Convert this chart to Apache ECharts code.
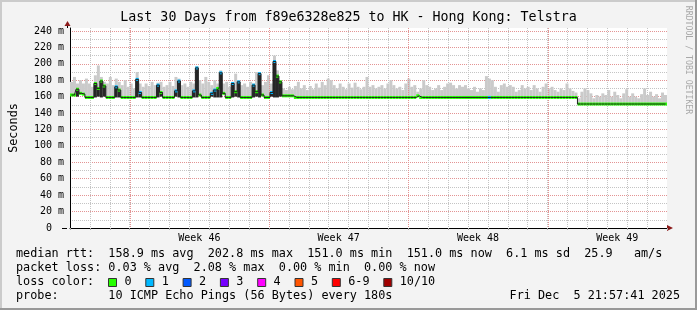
<!DOCTYPE html>
<html><head><meta charset="utf-8">
<script src="https://cdn.jsdelivr.net/npm/echarts@6/dist/echarts.min.js"></script>
<style>html,body{margin:0;padding:0;background:#f3f3f3}#c{width:697px;height:310px}</style>
</head><body><div id="c"></div>
<script>
// ---------- data ----------
const titleText = 'Last 30 Days from f89e6328e825 to HK - Hong Kong: Telstra';
const yTickValues = [0, 20, 40, 60, 80, 100, 120, 140, 160, 180, 200, 220, 240];
const yTickLabels = ['0  ', '20 m', '40 m', '60 m', '80 m', '100 m', '120 m', '140 m', '160 m', '180 m', '200 m', '220 m', '240 m'];
const weekLabels = ['Week 46', 'Week 47', 'Week 48', 'Week 49'];
const weekCenters = [6.5, 13.5, 20.5, 27.5];   // days from graph start
const weekStarts = [3, 10, 17, 24];            // days from graph start
const bucketDays = 0.15;                       // one sample bucket = 3.6 h

// median rtt per bucket (ms)
const median = [
 162,162,169,164,163,159,159,159,176,170,179,173,159,159,159,172,168,159,159,159,
 159,159,181,165,159,159,159,159,159,174,165,159,159,159,159,167,179,159,159,159,
 159,167,195,162,159,159,159,164,168,170,189,164,159,159,176,166,178,159,159,159,
 159,174,166,188,162,159,159,165,202.8,185,178,161,161,161,161,159,159,159,159,159,
 159,159,159,159,159,159,159,159,159,159,159,159,159,159,159,159,159,159,159,159,
 159,159,159,159,159,159,159,159,159,159,159,159,159,159,159,159,161,159,159,159,
 159,159,159,159,159,159,159,159,159,159,159,159,159,159,159,159,159,159,159,159,
 159,159,159,159,159,159,159,159,159,159,159,159,159,159,159,159,159,159,159,159,
 159,159,159,159,159,159,159,159,159,159,151,151,151,151,151,151,151,151,151,151,
 151,151,151,151,151,151,151,151,151,151,151,151,151,151,151,151,151,151,151,151
];
// top of the smoke (max ping) per bucket (ms)
const smokeTop = [
 178,184,176,180,176,182,176,172,186,198,184,178,176,184,174,182,178,174,180,172,
 176,170,190,176,172,176,173,178,174,177,178,172,174,178,173,184,182,174,176,172,
 178,176,197,180,176,184,178,174,180,176,192,176,178,172,178,188,180,174,176,172,
 178,176,190,189,174,178,186,176,210,192,180,170,168,172,169,173,178,170,174,168,
 173,169,176,171,178,174,182,180,174,170,176,172,169,176,171,177,172,169,172,184,
 172,174,170,172,174,170,176,180,174,170,172,168,176,182,172,174,166,170,180,174,
 172,168,170,174,168,172,176,177,174,170,174,172,174,170,168,172,166,170,168,185,
 182,180,172,166,174,176,172,174,172,166,168,174,170,172,168,174,170,166,172,176,
 170,172,168,166,170,168,176,170,167,165,158,166,170,168,164,158,162,160,164,162,
 168,160,166,162,158,164,169,160,164,160,158,163,170,162,166,160,163,158,165,162
];
// lost pings (of 10) per bucket
const loss = [
 0,0,0,0,0,0,0,0,0,0,0,0,0,0,0,1,0,0,0,0,
 0,0,1,1,0,0,0,0,0,1,0,0,0,0,0,1,1,0,0,0,
 0,1,1,0,0,0,0,1,1,0,1,0,0,0,1,0,1,0,0,0,
 0,1,0,1,0,0,0,1,1,0,0,0,0,0,0,0,0,0,0,0,
 0,0,0,0,0,0,0,0,0,0,0,0,0,0,0,0,0,0,0,0,
 0,0,0,0,0,0,0,0,0,0,0,0,0,0,0,0,0,0,0,0,
 0,0,0,0,0,0,0,0,0,0,0,0,0,0,0,0,0,0,0,0,
 1,0,0,0,0,0,0,0,0,0,0,0,0,0,0,0,0,0,0,0,
 0,0,0,0,0,0,0,0,0,0,0,0,0,0,0,0,0,0,0,0,
 0,0,0,0,0,0,0,0,0,0,0,0,0,0,0,0,0,0,0,0
];
// dense inner smoke in the jitter bursts: [bucket, low ms, high ms]
const innerSmoke = [
 [2,160,169],
 [8,159,176],[9,160,170],[10,159,179],[11,160,173],
 [15,159,172],[16,159,168],
 [22,159,181],[23,159,165],
 [29,159,174],[30,160,165],
 [35,160,167],[36,159,179],
 [41,159,167],[42,159,195],
 [47,160,164],[48,159,168],[49,159,170],[50,159,189],
 [54,159,176],[55,160,166],[56,159,178],
 [61,159,174],[62,160,166],[63,159,188],
 [67,160,165],[68,159,202.8],[69,159,185],[70,160,178]
];
const lossLegend = ['0', '1', '2', '3', '4', '5', '6-9', '10/10'];
const lossColors = ['#26ff00', '#00b8ff', '#0059ff', '#7600ff', '#ff00ff', '#ff5500', '#ff0000', '#a00000'];
const statLines = [
 'median rtt:  158.9 ms avg  202.8 ms max  151.0 ms min  151.0 ms now  6.1 ms sd  25.9   am/s',
 'packet loss: 0.03 % avg  2.08 % max  0.00 % min  0.00 % now'
];
const lossTitle = 'loss color:';
const probeLine = 'probe:       10 ICMP Echo Pings (56 Bytes) every 180s';
const dateText = 'Fri Dec  5 21:57:41 2025';
const watermark = 'RRDTOOL / TOBI OETIKER';

// ---------- rendering ----------
const MONO = "'DejaVu Sans Mono', 'Liberation Mono', monospace";
const CW = 7.1;
const Y_MAX = 243.6;
const lossIdx = n => n === 0 ? 0 : (n <= 5 ? n : (n < 10 ? 6 : 7));
const bx = i => i * bucketDays;
const rows = median.map((m, i) => [i, m, smokeTop[i], loss[i]]);

const chart = echarts.init(document.getElementById('c'), null, {renderer: 'canvas', width: 697, height: 310});

const graphics = [
  {type: 'rect', shape: {x: 0, y: 0, width: 697, height: 2}, style: {fill: '#cbcbcb'}, silent: true},
  {type: 'rect', shape: {x: 0, y: 0, width: 2, height: 310}, style: {fill: '#cbcbcb'}, silent: true},
  {type: 'rect', shape: {x: 0, y: 308, width: 697, height: 2}, style: {fill: '#999999'}, silent: true},
  {type: 'rect', shape: {x: 695, y: 0, width: 2, height: 310}, style: {fill: '#999999'}, silent: true},
  {type: 'text', x: 348.5, y: 18, silent: true,
   style: {text: titleText, font: `13.3px ${MONO}`, fill: '#000', align: 'center', verticalAlign: 'middle', textAlign: 'center', textVerticalAlign: 'middle'}},
  {type: 'text', x: 688.5, y: 60, rotation: -Math.PI / 2, silent: true,
   style: {text: watermark, font: `8.2px ${MONO}`, fill: '#a8a8a8', align: 'center', verticalAlign: 'middle', textAlign: 'center', textVerticalAlign: 'middle'}},
  // axis arrows
  {type: 'line', shape: {x1: 67.5, y1: 28, x2: 67.5, y2: 25}, style: {stroke: '#000', lineWidth: 1}, silent: true},
  {type: 'polygon', shape: {points: [[64.5, 26], [70.5, 26], [67.5, 21]]}, style: {fill: '#8b1a1a'}, silent: true},
  {type: 'polygon', shape: {points: [[667, 225], [667, 231], [673, 228]]}, style: {fill: '#8b1a1a'}, silent: true},
  {type: 'line', shape: {x1: 62, y1: 228.5, x2: 67, y2: 228.5}, style: {stroke: '#000', lineWidth: 1}, silent: true}
];
const lineYs = [254, 268, 282, 296];
statLines.forEach((t, k) => graphics.push({type: 'text', x: 16, y: lineYs[k], silent: true,
  style: {text: t, font: `11.8px ${MONO}`, fill: '#000', verticalAlign: 'middle', textVerticalAlign: 'middle'}}));
graphics.push({type: 'text', x: 16, y: lineYs[2], silent: true,
  style: {text: lossTitle, font: `11.8px ${MONO}`, fill: '#000', verticalAlign: 'middle', textVerticalAlign: 'middle'}});
let cur = 108;
lossLegend.forEach((lab, k) => {
  graphics.push({type: 'rect', shape: {x: cur + 0.5, y: 278.5, width: 8, height: 8},
    style: {fill: lossColors[k], stroke: '#333', lineWidth: 1}, silent: true});
  graphics.push({type: 'text', x: cur + 16.4, y: lineYs[2], silent: true,
    style: {text: lab, font: `11.8px ${MONO}`, fill: '#000', verticalAlign: 'middle', textVerticalAlign: 'middle'}});
  cur = cur + 16.4 + lab.length * CW + 13.8;
});
graphics.push({type: 'text', x: 16, y: lineYs[3], silent: true,
  style: {text: probeLine, font: `11.8px ${MONO}`, fill: '#000', verticalAlign: 'middle', textVerticalAlign: 'middle'}});
graphics.push({type: 'text', x: 680, y: lineYs[3], silent: true,
  style: {text: dateText, font: `11.8px ${MONO}`, fill: '#000', align: 'right', textAlign: 'right', verticalAlign: 'middle', textVerticalAlign: 'middle'}});

const minorGrid = '#c4c4c4';
const majorGrid = '#e39494';

chart.setOption({
  animation: false,
  backgroundColor: '#f3f3f3',
  grid: {left: 67, right: 30, top: 28, bottom: 82, show: true, backgroundColor: '#ffffff', borderWidth: 0},
  xAxis: {
    type: 'value', min: 0, max: 30, interval: 1,
    axisLine: {show: true, lineStyle: {color: '#000', width: 1}},
    axisTick: {show: true, length: 2, lineStyle: {color: '#aaaaaa'}},
    axisLabel: {customValues: weekCenters, margin: 5, color: '#000', fontFamily: MONO, fontSize: 10,
      formatter: v => { const k = weekCenters.indexOf(v); return k >= 0 ? weekLabels[k] : ''; }},
    splitLine: {show: true, showMinLine: false, showMaxLine: false, lineStyle: {color: minorGrid, type: [1, 1], width: 1}}
  },
  yAxis: [
    {type: 'value', position: 'left', min: 0, max: Y_MAX, interval: 10,
     axisLine: {show: false}, axisTick: {show: false}, axisLabel: {show: false},
     splitLine: {show: true, showMinLine: false, showMaxLine: false, lineStyle: {color: minorGrid, type: [1, 1], width: 1}}},
    {type: 'value', position: 'left', min: 0, max: Y_MAX, interval: 20,
     name: 'Seconds', nameLocation: 'middle', nameGap: 50, nameRotate: 90,
     nameTextStyle: {color: '#000', fontFamily: MONO, fontSize: 11.8},
     axisLine: {show: true, lineStyle: {color: '#000', width: 1}},
     axisTick: {show: false},
     axisLabel: {margin: 6, color: '#000', fontFamily: MONO, fontSize: 10, showMaxLabel: false,
       formatter: v => { const k = yTickValues.indexOf(v); return k >= 0 ? yTickLabels[k] : ''; }},
     splitLine: {show: true, showMinLine: false, showMaxLine: false, lineStyle: {color: majorGrid, type: [1, 1], width: 1}}}
  ],
  graphic: graphics,
  series: [
    {type: 'custom', name: 'smoke', yAxisIndex: 1, data: rows, silent: true, clip: true,
     renderItem(params, api) {
       const i = api.value(0);
       const a = api.coord([bx(i), api.value(2)]);
       const b = api.coord([bx(i + 1), api.value(1)]);
       return {type: 'rect', shape: {x: a[0], y: a[1], width: b[0] - a[0], height: b[1] - a[1]}, style: {fill: '#cacaca'}};
     }
    },
    {type: 'custom', name: 'week grid', yAxisIndex: 1, data: weekStarts.map(d => [d]), silent: true, clip: true,
     renderItem(params, api) {
       const d = api.value(0);
       const top = api.coord([d, Y_MAX]);
       const bot = api.coord([d, 0]);
       const x = Math.round(top[0]) + 0.5;
       return {type: 'line', shape: {x1: x, y1: top[1], x2: x, y2: bot[1]},
         style: {stroke: majorGrid, lineWidth: 1, lineDash: [1, 1], fill: null}};
     }
    },
    {type: 'custom', name: 'inner smoke', yAxisIndex: 1, data: innerSmoke, silent: true, clip: true,
     renderItem(params, api) {
       const i = api.value(0);
       const a = api.coord([bx(i), api.value(2)]);
       const b = api.coord([bx(i + 1), api.value(1)]);
       return {type: 'rect', shape: {x: a[0], y: a[1], width: b[0] - a[0], height: b[1] - a[1]}, style: {fill: '#262626'}};
     }
    },
    {type: 'line', name: 'median', yAxisIndex: 1, silent: true, step: 'middle', symbol: 'none',
     data: median.map((m, i) => [bx(i) + bucketDays / 2, m]),
     lineStyle: {color: '#202020', width: 1}},
    {type: 'custom', name: 'loss band', yAxisIndex: 1, data: rows, silent: true, clip: true,
     renderItem(params, api) {
       const i = api.value(0);
       const a = api.coord([bx(i), api.value(1)]);
       const b = api.coord([bx(i + 1), api.value(1)]);
       return {type: 'rect', shape: {x: a[0], y: a[1] - 1.5, width: b[0] - a[0], height: 3},
         style: {fill: lossColors[lossIdx(api.value(3))]}};
     }
    }
  ]
});
</script>
</body></html>
